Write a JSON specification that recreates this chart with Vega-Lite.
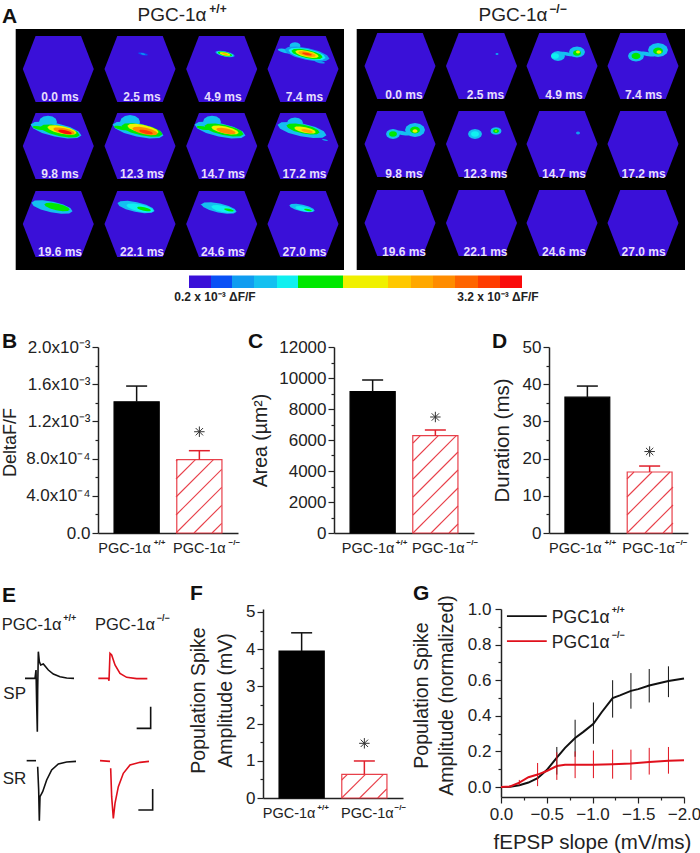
{
"$schema":"https://vega.github.io/schema/vega-lite/v6.json",
"padding":0,"background":"white",
"config":{"font":"Liberation Sans","view":{"stroke":null},"axis":{"grid":false,"domainColor":"#222","tickColor":"#222","labelColor":"#222","titleColor":"#222","domainWidth":1.5,"tickWidth":1.2,"labelFontSize":17,"titleFontSize":18,"titleFontWeight":"normal"}},
"spacing":0,
"resolve":{"scale":{"color":"independent","fill":"independent","stroke":"independent","size":"independent","shape":"independent"}},
"vconcat":[
{"width":700,"height":331,
 "layer":[
 {"data":{"values":[{"x":15.7,"x2":344,"y":29,"y2":270},{"x":356.7,"x2":685,"y":29,"y2":270}]},
  "mark":{"type":"rect","fill":"#000"},
  "encoding":{"x":{"field":"x","type":"quantitative","axis":null,"scale":{"domain":[0,700],"nice":false}},"x2":{"field":"x2"},"y":{"field":"y","type":"quantitative","axis":null,"scale":{"domain":[331,0],"nice":false,"zero":false}},"y2":{"field":"y2"}}},
 {"data":{"values":[{"x":58.3,"y":69},{"x":140,"y":69},{"x":221.7,"y":69},{"x":303,"y":69},{"x":58.3,"y":146},{"x":140,"y":146},{"x":221.7,"y":146},{"x":303,"y":146},{"x":58.3,"y":224},{"x":140,"y":224},{"x":221.7,"y":224},{"x":303,"y":224},{"x":400,"y":66},{"x":481.5,"y":66},{"x":562,"y":66},{"x":643,"y":66},{"x":400,"y":144},{"x":481.5,"y":144},{"x":562,"y":144},{"x":643,"y":144},{"x":400,"y":223},{"x":481.5,"y":223},{"x":562,"y":223},{"x":643,"y":223}]},
  "mark":{"type":"point","filled":true,"opacity":1,"fill":"#3a10d8","size":5041,"shape":"M-1,0L-.64,-.93L.64,-.93L1,0L.64,.93L-.64,.93Z"},
  "encoding":{"x":{"field":"x","type":"quantitative","axis":null},"y":{"field":"y","type":"quantitative","axis":null}}},
 {"data":{"values":[
  {"x":143,"y":54,"e":10,"l":1,"f":"long"},{"x":143,"y":54,"e":5,"l":2,"f":"long"},
  {"x":225,"y":54,"e":20,"l":2,"f":"long"},{"x":225,"y":54,"e":17,"l":4,"f":"long"},{"x":225,"y":54,"e":15,"l":5,"f":"long"},{"x":225,"y":54,"e":11,"l":7,"f":"long"},{"x":225,"y":54,"e":6,"l":10,"f":"long"},
  {"x":285,"y":51,"e":15,"l":3,"f":"long"},{"x":295,"y":46,"e":11,"l":3,"f":"round"},{"x":320,"y":62,"e":10,"l":2,"f":"long"},{"x":307,"y":54,"e":46,"l":2,"f":"long"},{"x":307,"y":54,"e":38,"l":4,"f":"long"},{"x":307,"y":54,"e":32,"l":5,"f":"long"},{"x":307,"y":54,"e":24,"l":7,"f":"long"},{"x":307,"y":54,"e":18,"l":10,"f":"long"},{"x":307,"y":54,"e":10,"l":13,"f":"long"},
  {"x":56,"y":130,"e":52,"l":3,"f":"long"},{"x":48,"y":122,"e":18,"l":3,"f":"round"},{"x":60,"y":131,"e":40,"l":5,"f":"long"},{"x":39,"y":128,"e":13,"l":5,"f":"long"},{"x":62,"y":130,"e":30,"l":8,"f":"long"},{"x":64,"y":131,"e":22,"l":11,"f":"long"},{"x":65,"y":132,"e":14,"l":14,"f":"long"},
  {"x":138,"y":130,"e":52,"l":3,"f":"long"},{"x":130,"y":122,"e":20,"l":3,"f":"round"},{"x":142,"y":130,"e":42,"l":5,"f":"long"},{"x":121,"y":128,"e":14,"l":5,"f":"long"},{"x":143,"y":129,"e":32,"l":8,"f":"long"},{"x":145,"y":131,"e":26,"l":11,"f":"long"},{"x":146,"y":132,"e":14,"l":13,"f":"long"},
  {"x":220,"y":130,"e":52,"l":3,"f":"long"},{"x":212,"y":122,"e":18,"l":3,"f":"round"},{"x":224,"y":130,"e":40,"l":5,"f":"long"},{"x":203,"y":128,"e":13,"l":5,"f":"long"},{"x":225,"y":130,"e":28,"l":8,"f":"long"},{"x":226,"y":131,"e":20,"l":11,"f":"long"},
  {"x":302,"y":130,"e":50,"l":3,"f":"long"},{"x":295,"y":123,"e":16,"l":3,"f":"round"},{"x":325,"y":140,"e":6,"l":2,"f":"long"},{"x":303,"y":129,"e":34,"l":5,"f":"long"},{"x":305,"y":130,"e":22,"l":8,"f":"long"},{"x":307,"y":131,"e":12,"l":10,"f":"long"},
  {"x":52,"y":207,"e":42,"l":3,"f":"long"},{"x":57,"y":207,"e":26,"l":5,"f":"long"},
  {"x":136,"y":207,"e":38,"l":3,"f":"long"},{"x":140,"y":208,"e":28,"l":4,"f":"long"},{"x":144,"y":209,"e":14,"l":5,"f":"long"},
  {"x":203,"y":205,"e":5,"l":3,"f":"long"},{"x":219,"y":208,"e":36,"l":3,"f":"long"},{"x":223,"y":209,"e":24,"l":4,"f":"long"},{"x":229,"y":210,"e":10,"l":5,"f":"long"},
  {"x":302,"y":208,"e":26,"l":3,"f":"long"},{"x":304,"y":209,"e":18,"l":4,"f":"long"},{"x":308,"y":210,"e":8,"l":5,"f":"long"},
  {"x":497,"y":54,"e":3,"l":2,"f":"round"},
  {"x":558,"y":56,"e":14,"l":3,"f":"round"},{"x":567,"y":54,"e":14,"l":3,"f":"long"},{"x":577,"y":52,"e":16,"l":3,"f":"round"},{"x":555,"y":56,"e":8,"l":4,"f":"round"},{"x":577,"y":53,"e":8,"l":5,"f":"round"},{"x":578,"y":52,"e":4,"l":8,"f":"round"},
  {"x":636,"y":56,"e":16,"l":3,"f":"round"},{"x":647,"y":54,"e":16,"l":3,"f":"long"},{"x":658,"y":50,"e":20,"l":3,"f":"round"},{"x":636,"y":56,"e":9,"l":5,"f":"round"},{"x":658,"y":51,"e":10,"l":5,"f":"round"},{"x":659,"y":52,"e":5,"l":8,"f":"round"},
  {"x":393,"y":134,"e":14,"l":3,"f":"round"},{"x":402,"y":133,"e":16,"l":3,"f":"long"},{"x":415,"y":130,"e":20,"l":3,"f":"round"},{"x":393,"y":134,"e":8,"l":5,"f":"round"},{"x":415,"y":130,"e":10,"l":5,"f":"round"},{"x":415,"y":131,"e":5,"l":8,"f":"round"},
  {"x":475,"y":134,"e":14,"l":3,"f":"round"},{"x":475,"y":134,"e":8,"l":4,"f":"round"},{"x":496,"y":131,"e":11,"l":3,"f":"round"},{"x":496,"y":131,"e":6,"l":5,"f":"round"},{"x":496,"y":131,"e":2,"l":8,"f":"round"},
  {"x":578,"y":133,"e":4,"l":2,"f":"round"}
  ]},
  "mark":{"type":"point","filled":true,"opacity":1},
  "encoding":{"x":{"field":"x","type":"quantitative","axis":null},"y":{"field":"y","type":"quantitative","axis":null},
   "size":{"field":"e","type":"quantitative","legend":null,"scale":{"type":"pow","exponent":2,"domain":[0,100],"range":[0,10000]}},
   "shape":{"field":"f","type":"nominal","legend":null,"scale":{"domain":["long","round"],"range":["M.978,.208L.82,.307L.442,.324L-.054,.254L-.536,.116L-.874,-.053L-.978,-.208L-.82,-.307L-.442,-.324L.054,-.254L.536,-.116L.874,.053Z","M1,0L.87,.35L.5,.6L0,.7L-.5,.6L-.87,.35L-1,0L-.87,-.35L-.5,-.6L0,-.7L.5,-.6L.87,-.35Z"]}},
   "color":{"field":"l","type":"ordinal","legend":null,"scale":{"domain":[0,1,2,3,4,5,6,7,8,9,10,11,12,13,14],"range":["#3a10d8","#0a50f5","#109cf0","#14c0f0","#10f0f0","#00e800","#00e800","#f0f000","#f0f000","#ffc800","#ffa800","#ff8c00","#ff6400","#ff3c00","#fa0a0a"]}}}},
 {"data":{"values":[{"x":189,"x2":211,"l":0},{"x":211,"x2":232,"l":1},{"x":232,"x2":254,"l":2},{"x":254,"x2":277,"l":3},{"x":277,"x2":298,"l":4},{"x":298,"x2":321,"l":5},{"x":321,"x2":343,"l":6},{"x":343,"x2":366,"l":7},{"x":366,"x2":388,"l":8},{"x":388,"x2":411,"l":9},{"x":411,"x2":433,"l":10},{"x":433,"x2":455,"l":11},{"x":455,"x2":478,"l":12},{"x":478,"x2":500,"l":13},{"x":500,"x2":522,"l":14}]},
  "mark":{"type":"rect"},
  "encoding":{"x":{"field":"x","type":"quantitative","axis":null},"x2":{"field":"x2"},"y":{"datum":275.5,"type":"quantitative","axis":null},"y2":{"datum":288},"color":{"field":"l","type":"ordinal","legend":null}}},
 {"data":{"values":[{"x":60,"y":97,"t":"0.0 ms"},{"x":142,"y":97,"t":"2.5 ms"},{"x":223,"y":97,"t":"4.9 ms"},{"x":304.5,"y":97,"t":"7.4 ms"},{"x":60,"y":174,"t":"9.8 ms"},{"x":142,"y":174,"t":"12.3 ms"},{"x":223,"y":174,"t":"14.7 ms"},{"x":304.5,"y":174,"t":"17.2 ms"},{"x":60,"y":252,"t":"19.6 ms"},{"x":142,"y":252,"t":"22.1 ms"},{"x":223,"y":252,"t":"24.6 ms"},{"x":304.5,"y":252,"t":"27.0 ms"},{"x":404,"y":95,"t":"0.0 ms"},{"x":485.5,"y":95,"t":"2.5 ms"},{"x":564,"y":95,"t":"4.9 ms"},{"x":643.6,"y":95,"t":"7.4 ms"},{"x":404,"y":174,"t":"9.8 ms"},{"x":485.5,"y":174,"t":"12.3 ms"},{"x":564,"y":174,"t":"14.7 ms"},{"x":643.6,"y":174,"t":"17.2 ms"},{"x":404,"y":252,"t":"19.6 ms"},{"x":485.5,"y":252,"t":"22.1 ms"},{"x":564,"y":252,"t":"24.6 ms"},{"x":643.6,"y":252,"t":"27.0 ms"}]},
  "mark":{"type":"text","fontSize":12,"fontWeight":"bold","fill":"#e6defc"},
  "encoding":{"x":{"field":"x","type":"quantitative","axis":null},"y":{"field":"y","type":"quantitative","axis":null},"text":{"field":"t"}}},
 {"data":{"values":[{"x":172,"y":15,"t":"PGC-1α"},{"x":513,"y":15,"t":"PGC-1α"}]},
  "mark":{"type":"text","fontSize":19,"fill":"#222"},
  "encoding":{"x":{"field":"x","type":"quantitative","axis":null},"y":{"field":"y","type":"quantitative","axis":null},"text":{"field":"t"}}},
 {"data":{"values":[{"x":218,"y":9,"t":"+/+"},{"x":558,"y":9,"t":"−/−"}]},
  "mark":{"type":"text","fontSize":12,"fontWeight":"bold","fill":"#222"},
  "encoding":{"x":{"field":"x","type":"quantitative","axis":null},"y":{"field":"y","type":"quantitative","axis":null},"text":{"field":"t"}}},
 {"data":{"values":[{"x":215,"y":297,"t":"0.2 x 10⁻³ ΔF/F"},{"x":498,"y":297,"t":"3.2 x 10⁻³ ΔF/F"}]},
  "mark":{"type":"text","fontSize":12,"fontWeight":"bold","fill":"#222"},
  "encoding":{"x":{"field":"x","type":"quantitative","axis":null},"y":{"field":"y","type":"quantitative","axis":null},"text":{"field":"t"}}},
 {"data":{"values":[{"x":2,"y":23,"t":"A"}]},
  "mark":{"type":"text","fontSize":21,"fontWeight":"bold","align":"left","baseline":"alphabetic","fill":"#111"},
  "encoding":{"x":{"field":"x","type":"quantitative","axis":null},"y":{"field":"y","type":"quantitative","axis":null},"text":{"field":"t"}}}
 ]},
{"spacing":0,"bounds":"flush",
 "resolve":{"scale":{"color":"independent","fill":"independent","stroke":"independent"}},
 "hconcat":[
 {"width":98,"height":236,"data":{"values":[{"x":2,"y":1,"t":"B"}]},
  "mark":{"type":"text","fontSize":21,"fontWeight":"bold","align":"left","baseline":"alphabetic","fill":"#111"},
  "encoding":{"x":{"field":"x","type":"quantitative","axis":null,"scale":{"domain":[0,98]}},"y":{"field":"y","type":"quantitative","axis":null,"scale":{"domain":[236,0]}},"text":{"field":"t"}}},
 {"width":140,"height":186,"resolve":{"scale":{"x":"independent","y":"independent"}},
  "layer":[
  {"encoding":{"x":{"field":"g","type":"nominal","scale":{"domain":["PGC-1α+/+","PGC-1α-/-"],"paddingInner":0.28,"paddingOuter":0.256},"axis":{"title":null,"ticks":false,"labelAngle":0,"labelFontSize":14.5,"labelPadding":8,"labelExpr":"'PGC-1α'","labelOffset":{"condition":{"test":"datum.value=='PGC-1α+/+'","value":-12},"value":0}}},
    "y":{"field":"v","type":"quantitative","scale":{"domain":[0,0.002],"nice":false},
       "axis":{"title":"DeltaF/F","titleX":-79,"titleY":95,"labelOverlap":false,"labelFlush":false,"values":[0,0.0002,0.0004,0.0006,0.0008,0.001,0.0012,0.0014,0.0016,0.0018,0.002],"tickSize":{"condition":{"test":"round(datum.value*1e5)%40==0","value":6},"value":3},"labelPadding":2,"labelExpr":"{'0':'0.0','40':'4.0x10⁻⁴','80':'8.0x10⁻⁴','120':'1.2x10⁻³','160':'1.6x10⁻³','200':'2.0x10⁻³'}[round(datum.value*1e5)]||''"}}},
   "layer":[
   {"data":{"values":[{"g":"PGC-1α+/+","v":0.00141,"err":0.00158},{"g":"PGC-1α-/-","v":0.00079,"err":0.000885}]},
    "layer":[
    {"mark":{"type":"bar","strokeWidth":1.2},
     "encoding":{
      "fill":{"field":"g","legend":null,"scale":{"domain":["PGC-1α+/+","PGC-1α-/-"],"range":["#000","#fff"]}},
      "stroke":{"field":"g","legend":null,"scale":{"domain":["PGC-1α+/+","PGC-1α-/-"],"range":["#000","#e8404a"]}}}},
    {"mark":{"type":"rule","strokeWidth":1.5},"encoding":{"y2":{"field":"err"},"color":{"field":"g","legend":null,"scale":{"domain":["PGC-1α+/+","PGC-1α-/-"],"range":["#111","#e0202c"]}}}}
    ]},
   {"data":{"values":[{"g":"PGC-1α+/+","v":0.00158},{"g":"PGC-1α-/-","v":0.000885}]},"mark":{"type":"tick","orient":"horizontal","size":21,"thickness":1.5,"opacity":1},"encoding":{"color":{"field":"g","legend":null}}},
   {"data":{"values":[{"g":"PGC-1α-/-","v":0.001089}]},"mark":{"type":"point","filled":false,"opacity":1,"stroke":"#333","strokeWidth":1,"size":110,"shape":"M-1,0L1,0M0,-1L0,1M-.7,-.7L.7,.7M-.7,.7L.7,-.7"}},
   {"data":{"values":[{"g":"PGC-1α+/+","s":"+/+","v":0}]},"mark":{"type":"text","fontSize":8,"fontWeight":"bold","fill":"#222","dx":23,"dy":10},"encoding":{"text":{"field":"s"}}},
   {"data":{"values":[{"g":"PGC-1α-/-","s":"−/−","v":0}]},"mark":{"type":"text","fontSize":8,"fontWeight":"bold","fill":"#222","dx":35,"dy":10},"encoding":{"text":{"field":"s"}}}
   ]},
  {"data":{"values":[{"a":114,"b":0,"c":123.7,"d":9.7},{"a":96,"b":0,"c":123.7,"d":27.7},{"a":78,"b":0,"c":123.7,"d":45.7},{"a":78,"b":18,"c":123.7,"d":63.7},{"a":78,"b":36,"c":115.7,"d":73.7},{"a":78,"b":54,"c":97.7,"d":73.7},{"a":78,"b":72,"c":79.7,"d":73.7}]},
   "mark":{"type":"rule","stroke":"#e8404a","strokeWidth":1.1},
   "encoding":{"x":{"field":"a","type":"quantitative","axis":null,"scale":{"domain":[0,140],"nice":false}},"x2":{"field":"c"},"y":{"field":"b","type":"quantitative","axis":null,"scale":{"domain":[0,186],"nice":false}},"y2":{"field":"d"}}}
  ]},
 {"width":96,"height":186,"data":{"values":[{"x":10,"y":1,"t":"C"}]},
  "mark":{"type":"text","fontSize":21,"fontWeight":"bold","align":"left","baseline":"alphabetic","fill":"#111"},
  "encoding":{"x":{"field":"x","type":"quantitative","axis":null,"scale":{"domain":[0,96]}},"y":{"field":"y","type":"quantitative","axis":null,"scale":{"domain":[186,0]}},"text":{"field":"t"}}},
 {"width":140,"height":186,"resolve":{"scale":{"x":"independent","y":"independent"}},
  "layer":[
  {"encoding":{"x":{"field":"g","type":"nominal","scale":{"domain":["PGC-1α+/+","PGC-1α-/-"],"paddingInner":0.28,"paddingOuter":0.256},"axis":{"title":null,"ticks":false,"labelAngle":0,"labelFontSize":14.5,"labelPadding":8,"labelExpr":"'PGC-1α'","labelOffset":{"condition":{"test":"datum.value=='PGC-1α+/+'","value":-4.5},"value":3}}},
    "y":{"field":"v","type":"quantitative","scale":{"domain":[0,12000],"nice":false},
       "axis":{"title":"Area (µm²)","titleFontSize":19.5,"titleX":-64,"titleY":93,"labelOverlap":false,"labelFlush":false,"values":[0,1000,2000,3000,4000,5000,6000,7000,8000,9000,10000,11000,12000],"tickSize":{"condition":{"test":"datum.value%2000==0","value":6},"value":3},"labelPadding":2,"labelExpr":"datum.value%2000==0?format(datum.value,'d'):''"}}},
   "layer":[
   {"data":{"values":[{"g":"PGC-1α+/+","v":9116,"err":9871},{"g":"PGC-1α-/-","v":6277,"err":6645}]},
    "layer":[
    {"mark":{"type":"bar","strokeWidth":1.2},
     "encoding":{
      "fill":{"field":"g","legend":null,"scale":{"domain":["PGC-1α+/+","PGC-1α-/-"],"range":["#000","#fff"]}},
      "stroke":{"field":"g","legend":null,"scale":{"domain":["PGC-1α+/+","PGC-1α-/-"],"range":["#000","#e8404a"]}}}},
    {"mark":{"type":"rule","strokeWidth":1.5},"encoding":{"y2":{"field":"err"},"color":{"field":"g","legend":null,"scale":{"domain":["PGC-1α+/+","PGC-1α-/-"],"range":["#111","#e0202c"]}}}}
    ]},
   {"data":{"values":[{"g":"PGC-1α+/+","v":9871},{"g":"PGC-1α-/-","v":6645}]},"mark":{"type":"tick","orient":"horizontal","size":21,"thickness":1.5,"opacity":1},"encoding":{"color":{"field":"g","legend":null}}},
   {"data":{"values":[{"g":"PGC-1α-/-","v":7484}]},"mark":{"type":"point","filled":false,"opacity":1,"stroke":"#333","strokeWidth":1,"size":110,"shape":"M-1,0L1,0M0,-1L0,1M-.7,-.7L.7,.7M-.7,.7L.7,-.7"}},
   {"data":{"values":[{"g":"PGC-1α+/+","s":"+/+","v":0}]},"mark":{"type":"text","fontSize":8,"fontWeight":"bold","fill":"#222","dx":29,"dy":10},"encoding":{"text":{"field":"s"}}},
   {"data":{"values":[{"g":"PGC-1α-/-","s":"−/−","v":0}]},"mark":{"type":"text","fontSize":8,"fontWeight":"bold","fill":"#222","dx":37,"dy":10},"encoding":{"text":{"field":"s"}}}
   ]},
  {"data":{"values":[{"a":115,"b":0,"c":124,"d":9},{"a":97,"b":0,"c":124,"d":27},{"a":79,"b":0,"c":124,"d":45},{"a":79,"b":18,"c":124,"d":63},{"a":79,"b":36,"c":124,"d":81},{"a":79,"b":54,"c":122.3,"d":97.3},{"a":79,"b":72,"c":104.3,"d":97.3},{"a":79,"b":90,"c":86.3,"d":97.3}]},
   "mark":{"type":"rule","stroke":"#e8404a","strokeWidth":1.1},
   "encoding":{"x":{"field":"a","type":"quantitative","axis":null,"scale":{"domain":[0,140],"nice":false}},"x2":{"field":"c"},"y":{"field":"b","type":"quantitative","axis":null,"scale":{"domain":[0,186],"nice":false}},"y2":{"field":"d"}}}
  ]},
 {"width":75,"height":186,"data":{"values":[{"x":18,"y":1,"t":"D"}]},
  "mark":{"type":"text","fontSize":21,"fontWeight":"bold","align":"left","baseline":"alphabetic","fill":"#111"},
  "encoding":{"x":{"field":"x","type":"quantitative","axis":null,"scale":{"domain":[0,75]}},"y":{"field":"y","type":"quantitative","axis":null,"scale":{"domain":[186,0]}},"text":{"field":"t"}}},
 {"width":139,"height":186,"resolve":{"scale":{"x":"independent","y":"independent"}},
  "layer":[
  {"encoding":{"x":{"field":"g","type":"nominal","scale":{"domain":["PGC-1α+/+","PGC-1α-/-"],"paddingInner":0.28,"paddingOuter":0.256},"axis":{"title":null,"ticks":false,"labelAngle":0,"labelFontSize":14.5,"labelPadding":8,"labelExpr":"'PGC-1α'","labelOffset":{"condition":{"test":"datum.value=='PGC-1α+/+'","value":-12},"value":-1}}},
    "y":{"field":"v","type":"quantitative","scale":{"domain":[0,50],"nice":false},
       "axis":{"title":"Duration (ms)","titleFontSize":20.5,"titleX":-37,"titleY":93,"labelOverlap":false,"labelFlush":false,"values":[0,5,10,15,20,25,30,35,40,45,50],"tickSize":{"condition":{"test":"datum.value%10==0","value":6},"value":3},"labelPadding":2,"labelExpr":"datum.value%10==0?format(datum.value,'d'):''"}}},
   "layer":[
   {"data":{"values":[{"g":"PGC-1α+/+","v":36.5,"err":39.5},{"g":"PGC-1α-/-","v":16.4,"err":18}]},
    "layer":[
    {"mark":{"type":"bar","strokeWidth":1.2},
     "encoding":{
      "fill":{"field":"g","legend":null,"scale":{"domain":["PGC-1α+/+","PGC-1α-/-"],"range":["#000","#fff"]}},
      "stroke":{"field":"g","legend":null,"scale":{"domain":["PGC-1α+/+","PGC-1α-/-"],"range":["#000","#e8404a"]}}}},
    {"mark":{"type":"rule","strokeWidth":1.5},"encoding":{"y2":{"field":"err"},"color":{"field":"g","legend":null,"scale":{"domain":["PGC-1α+/+","PGC-1α-/-"],"range":["#111","#e0202c"]}}}}
    ]},
   {"data":{"values":[{"g":"PGC-1α+/+","v":39.5},{"g":"PGC-1α-/-","v":18}]},"mark":{"type":"tick","orient":"horizontal","size":21,"thickness":1.5,"opacity":1},"encoding":{"color":{"field":"g","legend":null}}},
   {"data":{"values":[{"g":"PGC-1α-/-","v":21.9}]},"mark":{"type":"point","filled":false,"opacity":1,"stroke":"#333","strokeWidth":1,"size":110,"shape":"M-1,0L1,0M0,-1L0,1M-.7,-.7L.7,.7M-.7,.7L.7,-.7"}},
   {"data":{"values":[{"g":"PGC-1α+/+","s":"+/+","v":0}]},"mark":{"type":"text","fontSize":8,"fontWeight":"bold","fill":"#222","dx":23,"dy":10},"encoding":{"text":{"field":"s"}}},
   {"data":{"values":[{"g":"PGC-1α-/-","s":"−/−","v":0}]},"mark":{"type":"text","fontSize":8,"fontWeight":"bold","fill":"#222","dx":32,"dy":10},"encoding":{"text":{"field":"s"}}}
   ]},
  {"data":{"values":[{"a":114,"b":0,"c":124,"d":10},{"a":96,"b":0,"c":124,"d":28},{"a":78,"b":0,"c":124,"d":46},{"a":78,"b":18,"c":121,"d":61},{"a":78,"b":36,"c":103,"d":61},{"a":78,"b":54,"c":85,"d":61}]},
   "mark":{"type":"rule","stroke":"#e8404a","strokeWidth":1.1},
   "encoding":{"x":{"field":"a","type":"quantitative","axis":null,"scale":{"domain":[0,139],"nice":false}},"x2":{"field":"c"},"y":{"field":"b","type":"quantitative","axis":null,"scale":{"domain":[0,186],"nice":false}},"y2":{"field":"d"}}}
  ]}
]},
{"spacing":0,"bounds":"flush",
 "resolve":{"scale":{"color":"independent","fill":"independent","stroke":"independent"}},
 "hconcat":[
 {"width":263,"height":244,
  "layer":[
  {"data":{"values":[
   {"id":"a","c":"k","i":1,"x":75,"y":265},{"id":"a","c":"k","i":2,"x":105,"y":265},{"id":"a","c":"k","i":3,"x":108,"y":240},{"id":"a","c":"k","i":4,"x":110,"y":340},{"id":"a","c":"k","i":5,"x":112,"y":425},{"id":"a","c":"k","i":6,"x":113,"y":300},{"id":"a","c":"k","i":7,"x":115,"y":185},{"id":"a","c":"k","i":8,"x":118,"y":215},{"id":"a","c":"k","i":9,"x":122,"y":225},{"id":"a","c":"k","i":10,"x":130,"y":222},{"id":"a","c":"k","i":11,"x":145,"y":240},{"id":"a","c":"k","i":12,"x":160,"y":252},{"id":"a","c":"k","i":13,"x":180,"y":260},{"id":"a","c":"k","i":14,"x":200,"y":264},{"id":"a","c":"k","i":15,"x":222,"y":265},
   {"id":"b","c":"r","i":1,"x":295,"y":265},{"id":"b","c":"r","i":2,"x":325,"y":265},{"id":"b","c":"r","i":3,"x":327,"y":272},{"id":"b","c":"r","i":4,"x":330,"y":190},{"id":"b","c":"r","i":5,"x":335,"y":195},{"id":"b","c":"r","i":6,"x":345,"y":225},{"id":"b","c":"r","i":7,"x":360,"y":250},{"id":"b","c":"r","i":8,"x":380,"y":262},{"id":"b","c":"r","i":9,"x":410,"y":266},{"id":"b","c":"r","i":10,"x":442,"y":266},
   {"id":"c","c":"k","i":1,"x":80,"y":512},{"id":"c","c":"k","i":2,"x":108,"y":512},
   {"id":"d","c":"k","i":1,"x":113,"y":530},{"id":"d","c":"k","i":2,"x":116,"y":600},{"id":"d","c":"k","i":3,"x":118,"y":692},{"id":"d","c":"k","i":4,"x":120,"y":620},{"id":"d","c":"k","i":5,"x":128,"y":605},{"id":"d","c":"k","i":6,"x":140,"y":570},{"id":"d","c":"k","i":7,"x":155,"y":540},{"id":"d","c":"k","i":8,"x":175,"y":522},{"id":"d","c":"k","i":9,"x":200,"y":516},{"id":"d","c":"k","i":10,"x":228,"y":514},
   {"id":"e","c":"r","i":1,"x":300,"y":512},{"id":"e","c":"r","i":2,"x":330,"y":514},
   {"id":"f","c":"r","i":1,"x":332,"y":535},{"id":"f","c":"r","i":2,"x":335,"y":620},{"id":"f","c":"r","i":3,"x":340,"y":685},{"id":"f","c":"r","i":4,"x":345,"y":640},{"id":"f","c":"r","i":5,"x":355,"y":590},{"id":"f","c":"r","i":6,"x":370,"y":550},{"id":"f","c":"r","i":7,"x":390,"y":525},{"id":"f","c":"r","i":8,"x":420,"y":517},{"id":"f","c":"r","i":9,"x":447,"y":514},
   {"id":"g","c":"k","i":1,"x":410,"y":415},{"id":"g","c":"k","i":2,"x":452,"y":415},{"id":"g","c":"k","i":3,"x":452,"y":350},
   {"id":"h","c":"k","i":1,"x":415,"y":660},{"id":"h","c":"k","i":2,"x":458,"y":660},{"id":"h","c":"k","i":3,"x":458,"y":597}
   ]},
   "mark":{"type":"line","strokeWidth":1.6},
   "encoding":{"x":{"field":"x","type":"quantitative","axis":null,"scale":{"domain":[0,789],"nice":false}},"y":{"field":"y","type":"quantitative","axis":null,"scale":{"domain":[789,57],"nice":false,"zero":false}},"order":{"field":"i"},"detail":{"field":"id"},"color":{"field":"c","legend":null,"scale":{"domain":["k","r"],"range":["#111","#e0101c"]}}}},
  {"data":{"values":[{"x":5,"y":105,"t":"PGC-1α"},{"x":285,"y":105,"t":"PGC-1α"}]},"mark":{"type":"text","fontSize":16.5,"align":"left","fill":"#222"},"encoding":{"x":{"field":"x","type":"quantitative","axis":null},"y":{"field":"y","type":"quantitative","axis":null},"text":{"field":"t"}}},
  {"data":{"values":[{"x":190,"y":85,"t":"+/+"},{"x":470,"y":85,"t":"−/−"}]},"mark":{"type":"text","fontSize":9,"fontWeight":"bold","align":"left","fill":"#222"},"encoding":{"x":{"field":"x","type":"quantitative","axis":null},"y":{"field":"y","type":"quantitative","axis":null},"text":{"field":"t"}}},
  {"data":{"values":[{"x":10,"y":312,"t":"SP"},{"x":8,"y":568,"t":"SR"}]},"mark":{"type":"text","fontSize":17,"align":"left","fill":"#222"},"encoding":{"x":{"field":"x","type":"quantitative","axis":null},"y":{"field":"y","type":"quantitative","axis":null},"text":{"field":"t"}}},
  {"data":{"values":[{"x":6,"y":36,"t":"E"},{"x":570,"y":30,"t":"F"}]},"mark":{"type":"text","fontSize":21,"fontWeight":"bold","align":"left","baseline":"alphabetic","fill":"#111"},"encoding":{"x":{"field":"x","type":"quantitative","axis":null},"y":{"field":"y","type":"quantitative","axis":null},"text":{"field":"t"}}}
  ]},
 {"width":140,"height":189,"resolve":{"scale":{"x":"independent","y":"independent"}},
  "layer":[
  {"encoding":{"x":{"field":"g","type":"nominal","scale":{"domain":["PGC-1α+/+","PGC-1α-/-"],"paddingInner":0.28,"paddingOuter":0.256},"axis":{"title":null,"ticks":false,"labelAngle":0,"labelFontSize":14.5,"labelPadding":8,"labelExpr":"'PGC-1α'","labelOffset":{"condition":{"test":"datum.value=='PGC-1α+/+'","value":-12.5},"value":3}}},
    "y":{"field":"v","type":"quantitative","scale":{"domain":[0,5.08],"nice":false},
       "axis":{"title":["Population Spike","Amplitude (mV)"],"titleFontSize":19.5,"titleLineHeight":27,"titleX":-55,"titleY":91,"labelOverlap":false,"labelFlush":false,"values":[0,0.5,1,1.5,2,2.5,3,3.5,4,4.5,5],"tickSize":{"condition":{"test":"datum.value%1==0","value":6},"value":3},"labelPadding":2,"labelExpr":"datum.value%1==0?format(datum.value,'d'):''"}}},
   "layer":[
   {"data":{"values":[{"g":"PGC-1α+/+","v":3.95,"err":4.44},{"g":"PGC-1α-/-","v":0.637,"err":0.995}]},
    "layer":[
    {"mark":{"type":"bar","strokeWidth":1.2},
     "encoding":{
      "fill":{"field":"g","legend":null,"scale":{"domain":["PGC-1α+/+","PGC-1α-/-"],"range":["#000","#fff"]}},
      "stroke":{"field":"g","legend":null,"scale":{"domain":["PGC-1α+/+","PGC-1α-/-"],"range":["#000","#e8404a"]}}}},
    {"mark":{"type":"rule","strokeWidth":1.5},"encoding":{"y2":{"field":"err"},"color":{"field":"g","legend":null,"scale":{"domain":["PGC-1α+/+","PGC-1α-/-"],"range":["#111","#e0202c"]}}}}
    ]},
   {"data":{"values":[{"g":"PGC-1α+/+","v":4.44},{"g":"PGC-1α-/-","v":0.995}]},"mark":{"type":"tick","orient":"horizontal","size":21,"thickness":1.5,"opacity":1},"encoding":{"color":{"field":"g","legend":null}}},
   {"data":{"values":[{"g":"PGC-1α-/-","v":1.47}]},"mark":{"type":"point","filled":false,"opacity":1,"stroke":"#333","strokeWidth":1,"size":110,"shape":"M-1,0L1,0M0,-1L0,1M-.7,-.7L.7,.7M-.7,.7L.7,-.7"}},
   {"data":{"values":[{"g":"PGC-1α+/+","s":"+/+","v":0}]},"mark":{"type":"text","fontSize":8,"fontWeight":"bold","fill":"#222","dx":21.5,"dy":10},"encoding":{"text":{"field":"s"}}},
   {"data":{"values":[{"g":"PGC-1α-/-","s":"−/−","v":0}]},"mark":{"type":"text","fontSize":8,"fontWeight":"bold","fill":"#222","dx":36,"dy":10},"encoding":{"text":{"field":"s"}}}
   ]},
  {"data":{"values":[{"a":114.7,"b":0,"c":123.7,"d":9},{"a":96.7,"b":0,"c":120.4,"d":23.7},{"a":78.7,"b":0,"c":102.4,"d":23.7},{"a":78.7,"b":18,"c":84.4,"d":23.7}]},
   "mark":{"type":"rule","stroke":"#e8404a","strokeWidth":1.1},
   "encoding":{"x":{"field":"a","type":"quantitative","axis":null,"scale":{"domain":[0,140],"nice":false}},"x2":{"field":"c"},"y":{"field":"b","type":"quantitative","axis":null,"scale":{"domain":[0,189],"nice":false}},"y2":{"field":"d"}}}
  ]},
 {"width":98,"height":188,"data":{"values":[{"x":10,"y":-9,"t":"G"}]},
  "mark":{"type":"text","fontSize":21,"fontWeight":"bold","align":"left","baseline":"alphabetic","fill":"#111"},
  "encoding":{"x":{"field":"x","type":"quantitative","axis":null,"scale":{"domain":[0,98]}},"y":{"field":"y","type":"quantitative","axis":null,"scale":{"domain":[188,0],"nice":false}},"text":{"field":"t"}}},
 {"width":183,"height":188,
  "encoding":{"x":{"field":"x","type":"quantitative","scale":{"domain":[0,-2],"nice":false,"zero":false},
     "axis":{"title":"fEPSP slope (mV/ms)","titleFontSize":20.5,"titleBaseline":"middle","titleX":91,"titleY":45,"labelOverlap":false,"labelFlush":false,"values":[0,-0.25,-0.5,-0.75,-1,-1.25,-1.5,-1.75,-2],"tickSize":{"condition":{"test":"abs(datum.value*2-round(datum.value*2))<0.001","value":6},"value":3},"labelPadding":3,"labelExpr":"abs(datum.value*2-round(datum.value*2))<0.001?format(datum.value,'.1f'):''"}},
    "y":{"field":"y","type":"quantitative","scale":{"domain":[-0.056,1],"nice":false,"zero":false},
     "axis":{"title":["Population Spike","Amplitude (normalized)"],"titleFontSize":19.5,"titleLineHeight":25,"titleX":-70,"titleY":86,"labelOverlap":false,"labelFlush":false,"values":[0,0.1,0.2,0.3,0.4,0.5,0.6,0.7,0.8,0.9,1],"tickSize":{"condition":{"test":"abs(datum.value*5-round(datum.value*5))<0.001","value":6},"value":3},"labelPadding":4,"labelExpr":"abs(datum.value*5-round(datum.value*5))<0.001?format(datum.value,'.1f'):''"}}},
  "layer":[
  {"data":{"values":[
   {"s":"wt","x":0,"y":0},{"s":"wt","x":-0.1,"y":0.002},{"s":"wt","x":-0.2,"y":0.01},{"s":"wt","x":-0.3,"y":0.025},{"s":"wt","x":-0.4,"y":0.05},{"s":"wt","x":-0.5,"y":0.095},{"s":"wt","x":-0.61,"y":0.165},{"s":"wt","x":-0.7,"y":0.22},{"s":"wt","x":-0.81,"y":0.275},{"s":"wt","x":-0.9,"y":0.31},{"s":"wt","x":-1.01,"y":0.355},{"s":"wt","x":-1.1,"y":0.42},{"s":"wt","x":-1.22,"y":0.5},{"s":"wt","x":-1.3,"y":0.515},{"s":"wt","x":-1.42,"y":0.54},{"s":"wt","x":-1.5,"y":0.55},{"s":"wt","x":-1.62,"y":0.57},{"s":"wt","x":-1.83,"y":0.595},{"s":"wt","x":-2,"y":0.61},
   {"s":"ko","x":0,"y":0},{"s":"ko","x":-0.1,"y":0.003},{"s":"ko","x":-0.2,"y":0.025},{"s":"ko","x":-0.3,"y":0.055},{"s":"ko","x":-0.4,"y":0.07},{"s":"ko","x":-0.5,"y":0.09},{"s":"ko","x":-0.61,"y":0.118},{"s":"ko","x":-0.7,"y":0.125},{"s":"ko","x":-0.81,"y":0.125},{"s":"ko","x":-1.01,"y":0.125},{"s":"ko","x":-1.22,"y":0.128},{"s":"ko","x":-1.42,"y":0.132},{"s":"ko","x":-1.62,"y":0.14},{"s":"ko","x":-1.83,"y":0.147},{"s":"ko","x":-2,"y":0.15}
   ]},
   "mark":{"type":"line","strokeWidth":2},
   "encoding":{"color":{"field":"s","legend":null,"scale":{"domain":["wt","ko"],"range":["#111","#e0101c"]}}}},
  {"data":{"values":[
   {"s":"wt","x":-0.61,"y":0.07,"hi":0.225},{"s":"wt","x":-0.81,"y":0.17,"hi":0.378},{"s":"wt","x":-1.01,"y":0.243,"hi":0.475},{"s":"wt","x":-1.22,"y":0.39,"hi":0.6},{"s":"wt","x":-1.42,"y":0.44,"hi":0.64},{"s":"wt","x":-1.62,"y":0.475,"hi":0.663},{"s":"wt","x":-1.83,"y":0.505,"hi":0.678},
   {"s":"ko","x":-0.2,"y":0.01,"hi":0.04},{"s":"ko","x":-0.4,"y":0.005,"hi":0.135},{"s":"ko","x":-0.61,"y":0.04,"hi":0.195},{"s":"ko","x":-0.81,"y":0.05,"hi":0.2},{"s":"ko","x":-1.01,"y":0.05,"hi":0.205},{"s":"ko","x":-1.22,"y":0.047,"hi":0.21},{"s":"ko","x":-1.42,"y":0.04,"hi":0.21},{"s":"ko","x":-1.62,"y":0.07,"hi":0.22},{"s":"ko","x":-1.83,"y":0.075,"hi":0.225}
   ]},
   "mark":{"type":"rule","strokeWidth":1},
   "encoding":{"y2":{"field":"hi"},"color":{"field":"s","legend":null}}},
  {"data":{"values":[{"s":"wt","x":-0.065,"y":0.96},{"s":"wt","x":-0.5,"y":0.96},{"s":"ko","x":-0.065,"y":0.82},{"s":"ko","x":-0.5,"y":0.82}]},
   "mark":{"type":"line","strokeWidth":1.8},
   "encoding":{"color":{"field":"s","legend":null}}},
  {"data":{"values":[{"x":-0.556,"y":0.95,"t":"PGC1α"},{"x":-0.556,"y":0.81,"t":"PGC1α"}]},
   "mark":{"type":"text","fontSize":17.5,"align":"left","fill":"#222"},
   "encoding":{"text":{"field":"t"}}},
  {"data":{"values":[{"x":-1.21,"y":0.996,"t":"+/+"},{"x":-1.21,"y":0.856,"t":"−/−"}]},
   "mark":{"type":"text","fontSize":9,"fontWeight":"bold","align":"left","fill":"#222"},
   "encoding":{"text":{"field":"t"}}}
  ]}
]}
]
}
